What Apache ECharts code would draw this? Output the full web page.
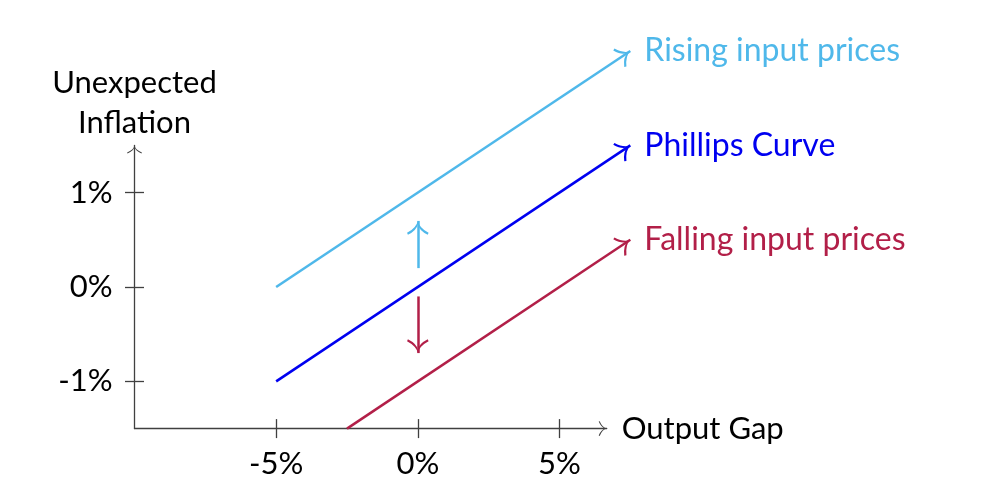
<!DOCTYPE html>
<html>
<head>
<meta charset="utf-8">
<script src="https://cdn.jsdelivr.net/npm/echarts@6/dist/echarts.min.js"></script>
<style>html,body{margin:0;padding:0;background:#fff}#c{width:998px;height:492px}</style>
</head>
<body>
<div id="c"></div>
<script>
// ---- data ----
const xAxisRange = [-10, 20 / 3];
const yAxisRange = [-1.5, 1.5];
const xTickValues = [-5, 0, 5];
const yTickValues = [-1, 0, 1];
const xAxisTitle = 'Output Gap';
const yAxisTitle = 'Unexpected\nInflation';
const curveNames = ['Rising input prices', 'Phillips Curve', 'Falling input prices'];
const curveStarts = [[-5, 0], [-5, -1], [-2.5, -1.5]];
const curveEnds = [[7.5, 2.5], [7.5, 1.5], [7.5, 0.5]];
const upShift = [[0, 0.2], [0, 0.7]];
const downShift = [[0, -0.1], [0, -0.7]];

// ---- style ----
const colors = ['#4fb8ea', '#0000f0', '#b21f48'];
const axisColor = '#404040';
const font = 'Lato';
const fs = 31;
const fsSeries = 32;
// arrowheads drawn with the tip at the centre of the symbol box
const bboxMarks = (s) => ' M0,0 L0.01,0 L0,0.01 Z M' + (s - 0.01) + ',' + s + ' L' + s + ',' + s + ' L' + s + ',' + (s - 0.01) + ' Z';
const lineArrow = 'path://M13,13 Q11.6,19.5 3,24 L3.8,25.9 Q11.9,21.8 13,16.3 Q14.1,21.8 22.2,25.9 L23,24 Q14.4,19.5 13,13 Z' + bboxMarks(26);
const axisArrow = 'path://M8,8 Q7,12.3 0.6,15 L1,16 Q7.2,13.4 8,9.5 Q8.8,13.4 15,16 L15.4,15 Q9,12.3 8,8 Z' + bboxMarks(16);
const arrowSize = 28;
const lineWidth = 2.5;

const fmtPct = v => v + '%';

const chart = echarts.init(document.getElementById('c'), null, {renderer: 'canvas'});

const gridRect = {left: 134.5, top: 145.4, width: 472.2, height: 283.2, outerBoundsMode: 'none'};

const series = [];
curveNames.forEach((n, i) => {
  series.push({
    type: 'lines', coordinateSystem: 'cartesian2d', xAxisIndex: 0, yAxisIndex: 0,
    clip: false, silent: true,
    symbol: ['none', lineArrow], symbolSize: arrowSize,
    lineStyle: {color: colors[i], width: lineWidth, opacity: 1, curveness: 0},
    data: [{coords: [curveStarts[i], curveEnds[i]]}]
  });
  series.push({
    type: 'scatter', xAxisIndex: 0, yAxisIndex: 0, clip: false, silent: true,
    symbolSize: 0, itemStyle: {opacity: 1},
    label: {show: true, position: 'right', distance: 14, formatter: '{b}',
      color: colors[i], opacity: 1, fontFamily: font, fontSize: fsSeries},
    data: [{name: n, value: curveEnds[i]}]
  });
});
series.push({
  type: 'lines', coordinateSystem: 'cartesian2d', clip: false, silent: true,
  symbol: ['none', lineArrow], symbolSize: arrowSize,
  lineStyle: {color: colors[0], width: lineWidth, opacity: 1},
  data: [{coords: upShift}]
});
series.push({
  type: 'lines', coordinateSystem: 'cartesian2d', clip: false, silent: true,
  symbol: ['none', lineArrow], symbolSize: arrowSize,
  lineStyle: {color: colors[2], width: lineWidth, opacity: 1},
  data: [{coords: downShift}]
});

chart.setOption({
  animation: false,
  backgroundColor: '#ffffff',
  textStyle: {fontFamily: font},
  grid: [Object.assign({}, gridRect), Object.assign({}, gridRect)],
  xAxis: [{
    gridIndex: 0, type: 'value', min: xAxisRange[0], max: xAxisRange[1], position: 'bottom',
    axisLine: {show: true, onZero: false, lineStyle: {color: axisColor, width: 1.3},
      symbol: ['none', axisArrow], symbolSize: [16, 16]},
    axisTick: {show: true, inside: false, length: 9.5, customValues: xTickValues, lineStyle: {color: axisColor, width: 1.3}},
    axisLabel: {show: true, customValues: xTickValues, formatter: fmtPct, color: '#000', fontFamily: font, fontSize: fs, margin: 20},
    splitLine: {show: false},
    name: xAxisTitle, nameLocation: 'end', nameGap: 15,
    nameTextStyle: {color: '#000', fontFamily: font, fontSize: fs, align: 'left', verticalAlign: 'middle'}
  }, {
    gridIndex: 1, type: 'value', min: xAxisRange[0], max: xAxisRange[1], position: 'bottom',
    axisLine: {show: false, onZero: false},
    axisTick: {show: true, inside: true, length: 9.5, customValues: xTickValues, lineStyle: {color: axisColor, width: 1.3}},
    axisLabel: {show: false}, splitLine: {show: false}
  }],
  yAxis: [{
    gridIndex: 0, type: 'value', min: yAxisRange[0], max: yAxisRange[1], position: 'left',
    axisLine: {show: true, onZero: false, lineStyle: {color: axisColor, width: 1.3},
      symbol: ['none', axisArrow], symbolSize: [16, 16]},
    axisTick: {show: true, inside: false, length: 9.5, customValues: yTickValues, lineStyle: {color: axisColor, width: 1.3}},
    axisLabel: {show: true, customValues: yTickValues, formatter: fmtPct, color: '#000', fontFamily: font, fontSize: fs, margin: 22},
    splitLine: {show: false},
    name: yAxisTitle, nameLocation: 'end', nameGap: 2,
    nameTextStyle: {color: '#000', fontFamily: font, fontSize: fs, lineHeight: 40, align: 'center', verticalAlign: 'bottom'}
  }, {
    gridIndex: 1, type: 'value', min: yAxisRange[0], max: yAxisRange[1], position: 'left',
    axisLine: {show: false, onZero: false},
    axisTick: {show: true, inside: true, length: 9.5, customValues: yTickValues, lineStyle: {color: axisColor, width: 1.3}},
    axisLabel: {show: false}, splitLine: {show: false}
  }],
  series: series
});
</script>
</body>
</html>
